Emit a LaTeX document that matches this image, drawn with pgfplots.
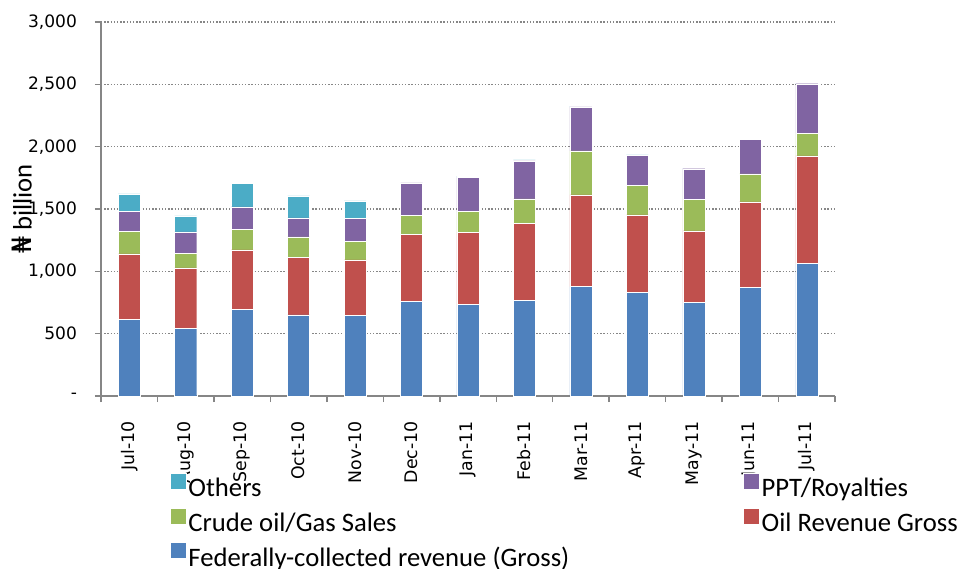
\documentclass[border=0pt]{standalone}
\usepackage{pgfplots}
\pgfplotsset{compat=1.18}
\usepackage{pgfplotstable}
\usepackage{fontspec}
\setmainfont{Carlito}
\newfontfamily\dejavu{DejaVu Sans}
\definecolor{cfed}{HTML}{4F81BD}
\definecolor{coil}{HTML}{C0504D}
\definecolor{ccrude}{HTML}{9BBB59}
\definecolor{cppt}{HTML}{8064A2}
\definecolor{coth}{HTML}{4BACC6}
\definecolor{axgray}{RGB}{134,134,134}
\pgfplotstableread{
x fed oil crude ppt oth
0 613 527 179 164 139
1 541 487 115 174 128
2 696 476 166 179 190
3 650 463 163 153 177
4 645 447 150 184 140
5 757 541 152 260 5
6 733 578 169 273 11
7 765 619 198 305 8
8 878 736 353 353 6
9 830 623 238 239 5
10 749 576 251 247 5
11 870 688 224 274 5
12 1062 865 179 399 5
}\datatable
\begin{document}
\begin{tikzpicture}
\path[use as bounding box] (0,0) rectangle (723pt,426pt);
\begin{axis}[
  at={(75.75pt,129pt)}, anchor=south west,
  scale only axis, width=550.5pt, height=280.5pt,
  ybar stacked, bar width=0.39,
  xmin=-0.5, xmax=12.5, ymin=0, ymax=3000,
  axis x line*=bottom, axis y line*=left,
  axis line style={axgray, line width=1.1pt, -},
  tick style={axgray, line width=1.1pt},
  tick align=outside,
  major tick length=4.5pt, minor tick length=4.5pt,
  xtick={0,...,12},
  major x tick style={draw=none},
  minor xtick={-0.5,0.5,...,12.5},
  xticklabels={Jul-10,Aug-10,Sep-10,Oct-10,Nov-10,Dec-10,Jan-11,Feb-11,Mar-11,Apr-11,May-11,Jun-11,Jul-11},
  xticklabel style={rotate=90, anchor=east, font=\dejavu\fontsize{13}{15}\selectfont, xshift=-11pt},
  ytick={0,500,...,3000},
  yticklabels={-,500,{1,000},{1,500},{2,000},{2,500},{3,000}},
  yticklabel style={font=\dejavu\fontsize{12.8}{14}\selectfont, xshift=-10pt},
  /pgf/number format/assume math mode=true,
  ymajorgrids,
  grid style={axgray, line width=1.1pt, dash pattern=on 1.1pt off 1.3pt},
  ylabel={{\dejavu ₦} billion},
  ylabel style={at={(rel axis cs:-0.1076,0.5)}, anchor=center, font=\fontsize{20}{22}\selectfont},
  reverse legend,
  legend columns=2,
  legend style={at={(rel axis cs:0.094,-0.205)}, anchor=north west, draw=none, fill=none,
    inner sep=0pt, outer sep=0pt, font=\fontsize{20}{22}\selectfont,
    nodes={text height=14pt, text depth=3pt, inner ysep=0pt, inner xsep=1.5pt},
    row sep=5pt,
    /tikz/every even column/.append style={column sep=129pt}},
  legend cell align=left,
  legend image code/.code={\fill[#1] (0pt,0.5pt) rectangle (12pt,12.5pt);},
]
\addplot[fill=cfed, draw=white, line width=0.3pt] table[x=x,y=fed]{\datatable};
\addplot[fill=coil, draw=white, line width=0.3pt] table[x=x,y=oil]{\datatable};
\addplot[fill=ccrude, draw=white, line width=0.3pt] table[x=x,y=crude]{\datatable};
\addplot[fill=cppt, draw=white, line width=0.3pt] table[x=x,y=ppt]{\datatable};
\addplot[fill=coth, draw=white, line width=0.3pt] table[x=x,y=oth]{\datatable};
\legend{Federally-collected revenue (Gross),Oil Revenue Gross,Crude oil/Gas Sales,PPT/Royalties,Others}
\end{axis}
\end{tikzpicture}
\end{document}
